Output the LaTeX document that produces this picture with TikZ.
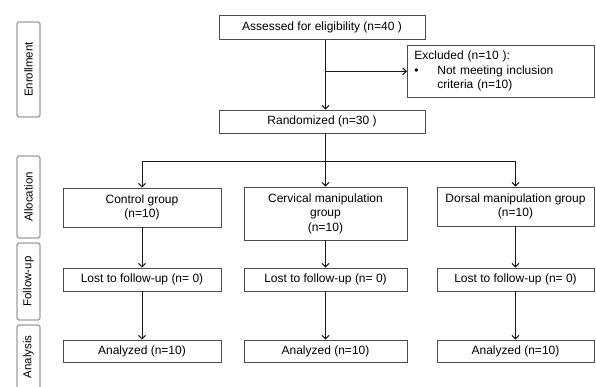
\documentclass[tikz,border=0pt]{standalone}
\usepackage{fontspec}
\setmainfont{Liberation Sans}
\usetikzlibrary{arrows.meta}
\tikzset{
  box/.style={rectangle,draw=black!70,line width=0.7pt,align=center,
    inner sep=2pt,font=\fontsize{12}{14.5}\selectfont},
  side/.style={rectangle,draw=black!70,line width=0.7pt,rounded corners=1.5pt,
    rotate=90,inner sep=1pt,font=\fontsize{11.5}{13}\selectfont},
  flow/.style={draw=black!90,line width=1pt},
  >={Straight Barb[length=3.5pt,width=7pt]}
}
\begin{document}
\begin{tikzpicture}[x=1pt,y=-1pt]
  \useasboundingbox (0,0) rectangle (596,387);
  % stage labels
  \node[side,minimum width=95,minimum height=23] (enrol)  at (28.5,69.5) {Enrollment};
  \node[side,minimum width=82,minimum height=23] (alloc)  at (28.5,197)  {Allocation};
  \node[side,minimum width=77,minimum height=23] (follow) at (28.5,281.5) {Follow-up};
  \node[side,minimum width=64,minimum height=23] (analys) at (28.5,357)  {Analysis};
  % enrolment
  \node[box,minimum width=206,minimum height=24] (assess) at (322,27.5) {Assessed for eligibility (n=40 )};
  \node[box,anchor=north west,align=left,text width=173pt,inner xsep=7pt,minimum height=52]
    (excl) at (407,45) {Excluded (n=10 ):\\
    \makebox[23pt][l]{\textbullet}Not meeting inclusion\\
    \hspace*{23pt}criteria (n=10)};
  \node[box,minimum width=206,minimum height=23] (rand) at (322,121.5) {Randomized (n=30 )};
  % allocation
  \node[box,minimum width=158,minimum height=39] (ctrl) at (142,207.5) {Control group\\(n=10)};
  \node[box,minimum width=163,minimum height=53] (cerv) at (325.5,213.5) {Cervical manipulation\\group\\(n=10)};
  \node[box,minimum width=157,minimum height=39] (dors) at (515.5,206.5) {Dorsal manipulation group\\(n=10)};
  % follow-up
  \node[box,minimum width=158,minimum height=23] (lostA) at (142,279.5) {Lost to follow-up (n= 0)};
  \node[box,minimum width=163,minimum height=23] (lostB) at (325.5,279.5) {Lost to follow-up (n= 0)};
  \node[box,minimum width=157,minimum height=23] (lostC) at (515.5,279.5) {Lost to follow-up (n= 0)};
  % analysis
  \node[box,minimum width=158,minimum height=22] (anaA) at (142,351) {Analyzed (n=10)};
  \node[box,minimum width=163,minimum height=22] (anaB) at (325.5,351) {Analyzed (n=10)};
  \node[box,minimum width=157,minimum height=22] (anaC) at (515.5,351) {Analyzed (n=10)};
  % connectors
  \coordinate (excljoin) at (excl.west -| cerv);
  \coordinate (split) at (325.5,162);
  \draw[flow,->] (assess.south -| cerv) -- (rand.north -| cerv);
  \draw[flow,->] (excljoin) -- (excl.west);
  \draw[flow] (rand.south -| cerv) -- (split);
  \draw[flow] (split -| ctrl) -- (split -| dors);
  \draw[flow,->] (split -| ctrl) -- (ctrl.north);
  \draw[flow,->] (split) -- (cerv.north);
  \draw[flow,->] (split -| dors) -- (dors.north);
  \draw[flow,->] (ctrl.south) -- (lostA.north);
  \draw[flow,->] (cerv.south) -- (lostB.north);
  \draw[flow,->] (dors.south) -- (lostC.north);
  \draw[flow,->] (lostA.south) -- (anaA.north);
  \draw[flow,->] (lostB.south) -- (anaB.north);
  \draw[flow,->] (lostC.south) -- (anaC.north);
\end{tikzpicture}
\end{document}
